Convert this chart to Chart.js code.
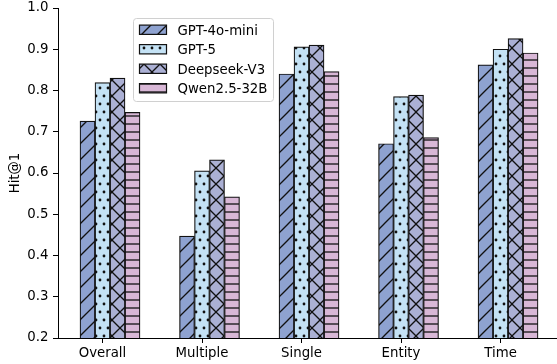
<!DOCTYPE html>
<html>
<head>
<meta charset="utf-8">
<script src="https://cdn.jsdelivr.net/npm/chart.js@4"></script>
<style>
  html, body { margin: 0; padding: 0; background: #fff; overflow: hidden; }
</style>
</head>
<body>
<canvas id="chart" width="557" height="364"></canvas>
<script>
// values
const categories = ['Overall', 'Multiple', 'Single', 'Entity', 'Time'];
const gpt4oMini = [0.726, 0.447, 0.840, 0.671, 0.862];
const gpt5 = [0.819, 0.605, 0.906, 0.785, 0.900];
const deepseekV3 = [0.830, 0.632, 0.910, 0.789, 0.926];
const qwen25 = [0.747, 0.542, 0.846, 0.686, 0.891];
const seriesNames = ['GPT-4o-mini', 'GPT-5', 'Deepseek-V3', 'Qwen2.5-32B'];
const yTicks = [0.2, 0.3, 0.4, 0.5, 0.6, 0.7, 0.8, 0.9, 1.0];

const FONT = '"DejaVu Sans", sans-serif';
const FONT_SIZE = 13.3;
const EDGE = '#111';

// hatch fills in the spirit of matplotlib's '//', '..', 'x', '--'
const makeHatch = (fill, w, h, draw) => {
    const c = document.createElement('canvas');
    c.width = w;
    c.height = h;
    const g = c.getContext('2d');
    g.fillStyle = fill;
    g.fillRect(0, 0, w, h);
    g.strokeStyle = EDGE;
    g.fillStyle = EDGE;
    g.lineWidth = 1.3;
    draw(g, w, h);
    return g.createPattern(c, 'repeat');
};

const diag = (g, s, dir) => {
    for (let k = -1; k <= 1; k++) {
        g.beginPath();
        if (dir > 0) {
            g.moveTo(k * s - 1, s + 1);
            g.lineTo(k * s + s + 1, -1);
        } else {
            g.moveTo(k * s - 1, -1);
            g.lineTo(k * s + s + 1, s + 1);
        }
        g.stroke();
    }
};

const patterns = [
    makeHatch('#8ea2d0', 16, 16, (g, s) => diag(g, s, 1)),
    makeHatch('#c4e2f5', 8, 16, g => {
        [[0, 0], [8, 0], [0, 16], [8, 16], [4, 8]].forEach(([x, y]) => {
            g.beginPath();
            g.arc(x, y, 1.4, 0, Math.PI * 2);
            g.fill();
        });
    }),
    makeHatch('#abb0d4', 16, 16, (g, s) => { diag(g, s, 1); diag(g, s, -1); }),
    makeHatch('#d8b7d6', 8, 8, g => {
        g.beginPath();
        g.moveTo(0, 4);
        g.lineTo(8, 4);
        g.stroke();
    })
];

const allSeries = [gpt4oMini, gpt5, deepseekV3, qwen25];

const datasets = allSeries.map((vals, i) => ({
    label: seriesNames[i],
    data: vals.map((v, j) => ({ x: j, y: v })),
    backgroundColor: patterns[i],
    borderColor: EDGE,
    borderWidth: 1.2,
    borderSkipped: false,
    barThickness: 15
}));

// legend drawn inside the plot, like the original
const innerLegend = {
    id: 'innerLegend',
    afterDraw(chart) {
        const ctx = chart.ctx;
        ctx.save();
        ctx.beginPath();
        ctx.roundRect(133.5, 18.5, 140, 83, 3);
        ctx.fillStyle = 'rgba(255,255,255,0.8)';
        ctx.fill();
        ctx.strokeStyle = '#d0d0d0';
        ctx.lineWidth = 1;
        ctx.stroke();
        chart.data.datasets.forEach((ds, i) => {
            const y = 29.7 + i * 19.5;
            ctx.fillStyle = ds.backgroundColor;
            ctx.fillRect(139.5, y - 4.6, 27, 9.3);
            ctx.strokeStyle = EDGE;
            ctx.lineWidth = 1.2;
            ctx.strokeRect(139.5, y - 4.6, 27, 9.3);
            ctx.fillStyle = '#000';
            ctx.font = FONT_SIZE + 'px ' + FONT;
            ctx.textBaseline = 'alphabetic';
            ctx.fillText(ds.label, 177.5, y + 4.9);
        });
        ctx.restore();
    }
};

Chart.defaults.color = '#000';
Chart.defaults.font.family = FONT;
Chart.defaults.font.size = FONT_SIZE;

new Chart(document.getElementById('chart'), {
    type: 'bar',
    data: { datasets },
    options: {
        responsive: false,
        animation: false,
        devicePixelRatio: 1,
        layout: { padding: { top: 0, right: 0, bottom: 0, left: 0 } },
        plugins: { legend: { display: false }, tooltip: { enabled: false } },
        scales: {
            x: {
                type: 'linear',
                offset: false,
                min: -0.5226,
                max: 4.492,
                afterBuildTicks: axis => {
                    // ticks sit under the second bar of each group
                    axis.ticks = categories.map((c, i) => ({ value: i - 0.0754 }));
                },
                afterFit: axis => {
                    axis.height = 26;
                    axis.paddingLeft = 0;
                    axis.paddingRight = 0;
                },
                ticks: {
                    autoSkip: false,
                    maxRotation: 0,
                    padding: 3,
                    callback: (v, i) => categories[i]
                },
                grid: { offset: false, drawOnChartArea: false, drawTicks: true, tickLength: 5, color: '#000', lineWidth: 1 },
                border: { display: true, color: '#000', width: 1 }
            },
            y: {
                min: 0.2,
                max: 1.0,
                afterBuildTicks: axis => { axis.ticks = yTicks.map(v => ({ value: v })); },
                afterFit: axis => {
                    axis.width = 58;
                    axis.paddingTop = 8;
                    axis.paddingBottom = 0;
                },
                ticks: {
                    padding: 4.5,
                    callback: v => v.toFixed(1)
                },
                title: { display: true, text: 'Hit@1', padding: { top: 8, bottom: 0 } },
                grid: { drawOnChartArea: false, drawTicks: true, tickLength: 5, color: '#000', lineWidth: 1 },
                border: { display: true, color: '#000', width: 1 }
            }
        }
    },
    plugins: [innerLegend]
});
</script>
</body>
</html>
